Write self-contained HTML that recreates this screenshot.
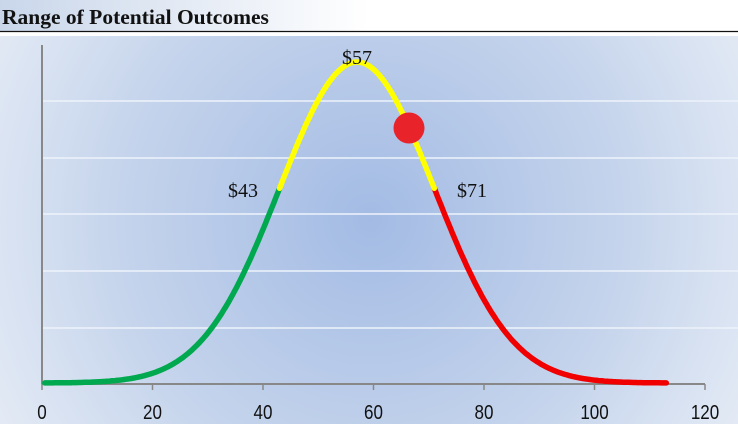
<!DOCTYPE html>
<html><head><meta charset="utf-8"><style>
html,body{margin:0;padding:0;width:738px;height:424px;overflow:hidden;background:#fff}
</style></head><body>
<svg id="s" width="738" height="424" xmlns="http://www.w3.org/2000/svg">
<defs>
<linearGradient id="tg" x1="0" x2="1" y1="0" y2="0">
<stop offset="0" stop-color="#c9d6ea"/><stop offset="0.5" stop-color="#ffffff"/><stop offset="1" stop-color="#ffffff"/>
</linearGradient>
<radialGradient id="bg" cx="370" cy="220" r="420" gradientUnits="userSpaceOnUse">
<stop offset="0" stop-color="#a3bbe4"/><stop offset="0.6" stop-color="#c5d4ec"/><stop offset="1" stop-color="#e3eaf5"/>
</radialGradient>
</defs>
<rect x="0" y="0" width="738" height="31" fill="url(#tg)"/>
<text x="2" y="24" font-family="Liberation Serif, serif" font-weight="bold" font-size="21.5" fill="#111">Range of Potential Outcomes</text>
<line x1="0" y1="31.5" x2="738" y2="31.5" stroke="#111" stroke-width="1.2"/>
<rect x="0" y="36" width="738" height="388" fill="url(#bg)"/>
<g stroke="#eef3fb" stroke-width="1.5">
<line x1="42" y1="101" x2="738" y2="101"/>
<line x1="42" y1="158" x2="738" y2="158"/>
<line x1="42" y1="214" x2="738" y2="214"/>
<line x1="42" y1="271" x2="738" y2="271"/>
<line x1="42" y1="328" x2="738" y2="328"/>
</g>
<line x1="42" y1="45" x2="42" y2="384" stroke="#888" stroke-width="2"/>
<line x1="42" y1="384" x2="705" y2="384" stroke="#888" stroke-width="2"/>
<g id="ticks" stroke="#888" stroke-width="1.5"></g>
<g id="lbl" font-family="Liberation Sans, sans-serif" font-size="20" fill="#111" text-anchor="middle"></g>
<g id="curve" fill="none" stroke-width="5.5" stroke-linecap="round"></g>
<circle cx="409" cy="128" r="15.5" fill="#e8232a"/>
<g font-family="Liberation Serif, serif" font-size="20" fill="#111" text-anchor="middle">
<text x="357" y="64">$57</text>
<text x="243" y="197">$43</text>
<text x="472" y="197">$71</text>
</g>
</svg>
<script>
var X=function(v){return 42+v*5.525};
var Y=function(v){return 383-321*Math.exp(-Math.pow((v-57)/14,2)/2)};
var t=document.getElementById('ticks'),l=document.getElementById('lbl');
var ns="http://www.w3.org/2000/svg";
for(var i=0;i<=120;i+=20){var e=document.createElementNS(ns,'line');e.setAttribute('x1',X(i));e.setAttribute('x2',X(i));e.setAttribute('y1',384);e.setAttribute('y2',390);t.appendChild(e);
var tx=document.createElementNS(ns,'text');tx.setAttribute('transform','translate('+X(i)+',419) scale(0.85,1)');tx.textContent=i;l.appendChild(tx);}
function seg(a,b,c){var d='';for(var v=a;v<=b+1e-9;v+=0.25){d+=(d?'L':'M')+X(v).toFixed(1)+','+Y(v).toFixed(1);}
var p=document.createElementNS(ns,'path');p.setAttribute('d',d);p.setAttribute('stroke',c);document.getElementById('curve').appendChild(p);}
seg(0.5,43,'#00a84f');seg(71,113,'#f00000');seg(43,71,'#ffff00');
</script>
</body></html>
